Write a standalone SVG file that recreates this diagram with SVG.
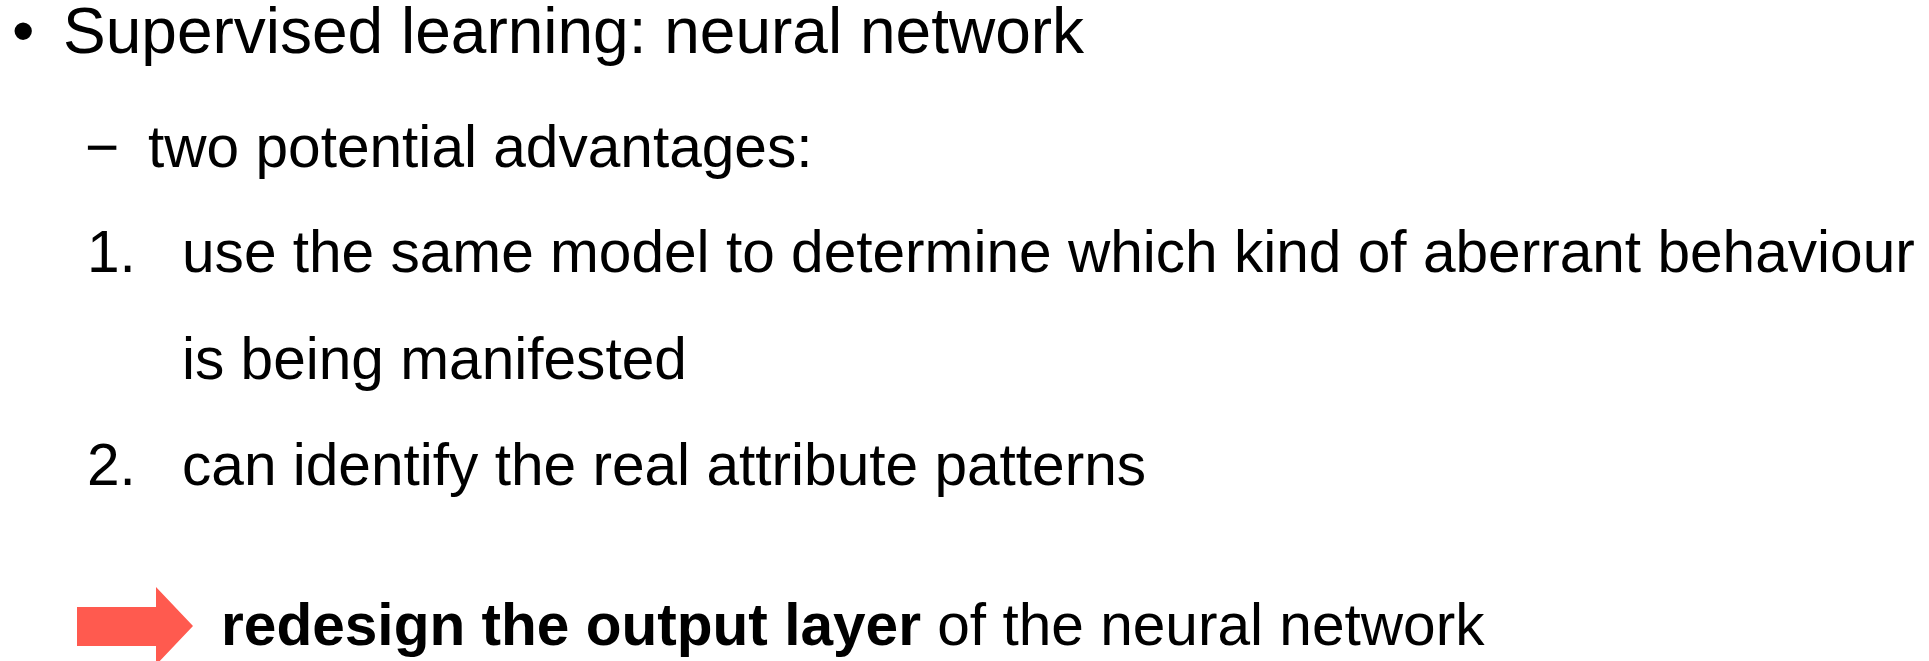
<svg xmlns="http://www.w3.org/2000/svg" width="1929" height="661" viewBox="0 0 1929 661">
<style>
text{font-family:"Liberation Sans",Arial,sans-serif;fill:#000}
.l1{font-size:64px}
.l2{font-size:58.6px}
.b{font-weight:bold}
</style>
<rect width="1929" height="661" fill="#fff"/>
<g id="bullet1">
<text class="l1" x="12" y="53">•</text>
<text class="l1" x="63" y="53">Supervised learning: neural network</text>
</g>
<g id="sub1">
<text class="l2" x="85" y="167">−</text>
<text class="l2" x="148" y="167">two potential advantages:</text>
</g>
<g id="item1">
<text class="l2" x="87" y="272">1.</text>
<text class="l2" x="182" y="272">use the same model to determine which kind of aberrant behaviour</text>
<text class="l2" x="182" y="379">is being manifested</text>
</g>
<g id="item2">
<text class="l2" x="87" y="485">2.</text>
<text class="l2" x="182" y="485">can identify the real attribute patterns</text>
</g>
<g id="conclusion">
<polygon points="77,607 156,607 156,587 193,626 156,665 156,646 77,646" fill="#FF5A4F"/>
<text class="l2" x="221" y="645"><tspan class="b">redesign the output layer</tspan> of the neural network</text>
</g>
</svg>
